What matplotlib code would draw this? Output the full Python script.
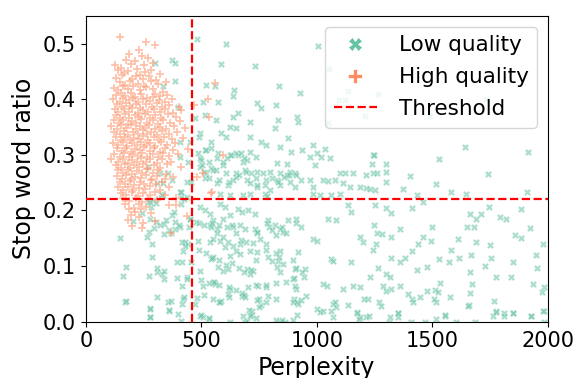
import matplotlib
matplotlib.use("Agg")
import matplotlib.pyplot as plt
from matplotlib.lines import Line2D

# ---------------- data ----------------
threshold_ppl = 460
threshold_ratio = 0.22

low_points = [
    (482,.509),(605,.50),(587,.463),(733,.46),(1006,.495),(1052,.454),(519,.426),(558,.423),(642,.416),(638,.405),
    (835,.423),(926,.412),(508,.396),(573,.396),(739,.393),(758,.384),(825,.39),(1136,.414),(1097,.398),(1124,.398),
    (1208,.37),(515,.372),(563,.363),(638,.368),(659,.375),(710,.359),(832,.362),(915,.369),(919,.36),(623,.351),
    (652,.348),(818,.348),(494,.339),(587,.34),(609,.333),(710,.333),(876,.33),(544,.324),(760,.324),(782,.318),
    (840,.315),(984,.318),(1035,.31),(934,.309),(515,.309),(573,.304),(623,.30),(659,.30),(710,.306),(736,.297),
    (890,.306),(970,.297),(999,.303),(1020,.297),(1244,.30),(494,.294),(681,.288),(696,.291),(826,.285),(869,.283),
    (1237,.283),(544,.277),(594,.282),(1049,.358),(1056,.294),
    (991,.282),(739,.27),(768,.267),(797,.27),(840,.267),(869,.264),(883,.27),(905,.267),(1100,.268),(1121,.267),
    (1157,.267),(1215,.264),(1244,.267),(522,.267),(551,.273),(652,.267),(688,.273),(457,.251),(515,.258),(566,.249),
    (616,.245),(638,.255),(696,.255),(710,.249),(739,.242),(775,.245),(797,.236),(826,.255),(840,.245),(883,.251),
    (905,.242),(970,.255),(984,.242),(1027,.255),(1049,.253),(1078,.255),(1114,.249),(1143,.242),(1186,.242),(1215,.24),
    (580,.23),(623,.227),(681,.227),(710,.23),(775,.23),(785,.226),(984,.23),(1013,.227),(1063,.227),(1100,.23),
    (1136,.209),(1150,.197),(494,.206),(515,.2),(537,.194),(551,.182),(594,.185),(623,.191),(580,.212),(602,.206),
    (659,.203),(674,.197),(703,.2),(732,.194),(789,.182),(793,.17),(818,.173),(876,.182),(912,.185),(1049,.184),
    (1085,.182),(450,.185),(479,.179),(537,.173),(566,.167),(638,.17),(667,.173),(688,.167),(732,.167),(739,.159),
    (753,.149),(840,.167),(854,.161),(984,.149),(999,.146),(1186,.152),(1201,.143),(443,.14),(486,.146),(537,.143),
    (551,.149),(580,.146),(602,.134),(638,.137),(667,.14),(594,.152),(616,.143),(782,.14),(652,.128),(667,.122),
    (710,.128),(739,.125),(840,.128),(919,.125),(407,.17),(429,.143),(421,.128),(544,.113),(551,.116),(623,.119),
    (789,.116),(804,.11),(832,.11),(854,.104),(1063,.113),(1071,.11),(1150,.107),(457,.107),(494,.092),(573,.098),
    (594,.092),(616,.095),(696,.095),(724,.092),(710,.086),(826,.098),(840,.089),(905,.095),(948,.095),(436,.08),
    (508,.065),(551,.071),(558,.068),(623,.059),(616,.05),(674,.047),(688,.044),(746,.065),(782,.062),(789,.047),
    (898,.077),(912,.059),(955,.047),(905,.065),(1042,.065),(1027,.068),(1114,.059),(1157,.065),(1186,.063),(1229,.08),
    (1071,.032),(1085,.026),(919,.032),(999,.023),(1013,.017),(1172,.017),(1186,.008),(1215,.008),(472,.032),(508,.008),
    (681,.011),(696,.001),(1222,.041),(551,.041),(587,.038),
    (170,.036),(277,.025),(277,.008),(361,.02),(398,.013),(420,.04),(496,.01),(533,.005),(579,.035),(624,.0),
    (687,.0),(711,.01),(719,.02),(759,.03),(751,.04),(823,.04),(839,.0),(863,.0),(902,.04),(915,.035),
    (1029,.02),(1061,.02),(1069,.008),(1077,.035),(1133,.03),(1173,.015),(1181,.005),(1204,.04),(1228,.01),(1268,.035),
    (1313,.0),(1353,.015),(1350,.008),(1411,.04),(1408,.0),(1467,.0),(1515,.035),(1515,.005),(1555,.01),(1603,.0),
    (1659,.03),(1683,.0),(1762,.01),(1778,.02),(1810,.015),(1850,.015),(1928,.01),(1984,.02),(1984,.0),
    (1299,.283),(1261,.267),(1299,.27),(1405,.262),(1742,.265),(1301,.251),(1518,.247),(1229,.238),(1251,.236),(1374,.238),
    (1432,.227),(1583,.233),(1648,.23),(1908,.233),(1251,.209),(1299,.204),(1323,.196),(1414,.205),(1460,.215),(1665,.194),
    (1691,.185),(1713,.194),(1745,.206),(1795,.188),(1818,.184),(1882,.203),(1247,.174),(1261,.159),(1284,.157),(1359,.166),
    (1499,.17),(1651,.171),(1680,.17),(1922,.169),(1320,.153),(1458,.152),(1494,.146),(1436,.14),(1414,.128),(1612,.149),
    (1691,.144),(1752,.138),(1857,.155),(1886,.151),(1980,.139),(1255,.14),(1244,.129),(1580,.129),(1667,.12),(1947,.12),
    (1323,.115),(1381,.115),(1359,.108),(1529,.113),(1571,.107),(1616,.115),(1753,.114),(1727,.101),(1850,.107),(1265,.096),
    (1299,.085),(1319,.081),(1434,.093),(1475,.098),(1662,.089),(1954,.097),(1775,.081),(1839,.08),(1287,.065),(1323,.059),
    (1299,.055),(1359,.065),(1532,.069),(1395,.05),(1417,.036),(1446,.044),(1475,.055),(1511,.057),(1508,.041),(1525,.053),
    (1576,.044),(1655,.029),(1662,.051),(1670,.068),(1766,.038),(1936,.067),(1977,.053),(1984,.062),(1276,.029),(1352,.015),
    (1316,.008),(1778,.018),(1810,.011),(1850,.015),(1929,.01),(1980,.019),(1554,.012),
    (1265,.41),(1734,.40),(1489,.37),(1247,.30),(1528,.292),(1641,.315),(1915,.305),
    (299,.465),(371,.471),(385,.465),(385,.432),(332,.423),(400,.387),(472,.366),(407,.324),(450,.324),(407,.297),
    (443,.288),(486,.303),(494,.278),(320,.267),(356,.267),(371,.255),(335,.249),(306,.249),(270,.279),(436,.251),
    (407,.233),(414,.224),(327,.23),(291,.218),(270,.215),(284,.206),
    (330,.227),(410,.233),(438,.224),(280,.215),(302,.213),(410,.212),(424,.221),(244,.195),(205,.181),(280,.185),
    (302,.179),(323,.173),(338,.176),(345,.182),(374,.191),(381,.197),(388,.179),(403,.173),(388,.167),(359,.164),
    (367,.159),(338,.158),(294,.169),(273,.161),(265,.153),(287,.14),(147,.151),(446,.17),(453,.185),(417,.143),
    (431,.137),(287,.117),(172,.099),(160,.083),(273,.083),(309,.089),(306,.097),(330,.086),(338,.077),(340,.092),
    (395,.107),(417,.107),(395,.079),(438,.077),(417,.065),(309,.045),(355,.035),(369,.038),(424,.044),(417,.031),
    (175,.038),(277,.023),(280,.008),(359,.021),(410,.002),
    (490,.333),(519,.309),(541,.312),(498,.291),(505,.282),(534,.288),(570,.294),(592,.288),(613,.294),(628,.30),
    (649,.303),(671,.303),(685,.294),(512,.27),(534,.258),(563,.273),(577,.255),(606,.267),(620,.251),(649,.26),
    (664,.264),(693,.27),(714,.267),(736,.258),(743,.245),(779,.255),(808,.258),(830,.251),(858,.26),(880,.264),
    (909,.264),(931,.255),
    (491,.177),(512,.174),(541,.171),(548,.177),(570,.159),(577,.174),(613,.171),(635,.174),(649,.159),(671,.147),
    (693,.144),(722,.141),(743,.162),(786,.177),(808,.165),(823,.156),(851,.171),(866,.159),(909,.177),(931,.171),
    (491,.129),(519,.123),(548,.114),(577,.111),(606,.102),(635,.105),(664,.096),(685,.09),(714,.093),(736,.111),
    (779,.129),(823,.123),(837,.117),(895,.111),(909,.096),(938,.09),
    (498,.075),(534,.069),(556,.072),(577,.066),(620,.063),(649,.057),(678,.051),(700,.063),(736,.066),(779,.066),
    (823,.069),(866,.072),(902,.078),(945,.081),
    (483,.042),(512,.048),(577,.036),(620,.045),(685,.048),(743,.039),(779,.036),(895,.036),(931,.039),
    (498,.012),(534,.006),(707,.021),(714,.012),(736,.006),(750,.027),(823,.003),(851,.003),(895,.003),(916,.012),
]

high_points = [
    (150,.512),(262,.503),(301,.498),(232,.489),(186,.482),(243,.478),(176,.471),(212,.468),(268,.474),(292,.465),
    (127,.462),(152,.457),(197,.463),(221,.455),(251,.461),(141,.452),(166,.447),(183,.451),(233,.444),(258,.449),
    (284,.453),(322,.446),(131,.438),(157,.443),(202,.436),(216,.441),(246,.437),(272,.442),(303,.435),(148,.431),
    (171,.426),(192,.433),(226,.428),(254,.424),(281,.432),(311,.427),(346,.431),(124,.421),(139,.417),(162,.423),
    (181,.418),(206,.424),(236,.416),(261,.422),(289,.418),(332,.413),(129,.408),(151,.412),(168,.405),(196,.411),
    (213,.404),(241,.409),(266,.403),(298,.41),(321,.405),(352,.408),(119,.401),(146,.396),(161,.403),(187,.398),
    (204,.402),(227,.395),(249,.401),(276,.397),(291,.404),(316,.399),(341,.395),(374,.4),(134,.391),(156,.386),
    (176,.393),(193,.388),(217,.392),(236,.385),(259,.391),(286,.387),(306,.393),(331,.386),(361,.39),(402,.387),
    (126,.382),(141,.377),(164,.383),(186,.378),(199,.384),(224,.376),(246,.381),(271,.378),(294,.383),(319,.377),
    (344,.382),(379,.376),(414,.381),(131,.372),(149,.367),(171,.373),(189,.366),(211,.371),(229,.368),(256,.374),
    (279,.366),(301,.372),(326,.367),(356,.373),(391,.368),(121,.362),(144,.357),(159,.363),(181,.356),(201,.361),
    (219,.358),(241,.364),(264,.357),(289,.362),(311,.356),(336,.363),(366,.358),(408,.361),(111,.352),(136,.347),
    (154,.353),(176,.348),(194,.354),(216,.346),(234,.352),(256,.349),(274,.353),(299,.347),(321,.351),(349,.346),
    (381,.352),(428,.348),(124,.342),(146,.337),(166,.343),(184,.336),(206,.341),(224,.338),(246,.344),(266,.337),
    (284,.342),(309,.336),(331,.343),(361,.338),(396,.341),(129,.332),(151,.327),(169,.333),(191,.326),(209,.331),
    (231,.328),(249,.334),(271,.327),(294,.332),(316,.326),(339,.333),(371,.328),(421,.331),(119,.322),(141,.317),
    (161,.323),(179,.316),(201,.321),(221,.318),(239,.324),(261,.317),(279,.322),(301,.316),(324,.323),(351,.318),
    (386,.321),(134,.312),(156,.307),(174,.313),(196,.306),(214,.311),(236,.308),(254,.314),(276,.307),(294,.312),
    (321,.306),(344,.313),(376,.308),(441,.311),(124,.302),(146,.297),(164,.303),(186,.296),(204,.301),(226,.298),
    (244,.304),(266,.297),(289,.302),(311,.296),(334,.303),(361,.298),(401,.301),(111,.292),(139,.287),(159,.293),
    (181,.286),(199,.291),(221,.288),(239,.294),(261,.287),(279,.292),(306,.286),(329,.293),(369,.288),(129,.282),
    (151,.277),(169,.283),(191,.276),(209,.281),(231,.278),(249,.284),(271,.277),(296,.282),(319,.276),(351,.283),
    (411,.278),(141,.272),(159,.267),(181,.273),(199,.266),(221,.271),(244,.268),(266,.274),(289,.267),(314,.272),
    (346,.266),(134,.262),(156,.257),(174,.263),(196,.256),(214,.261),(241,.258),(259,.264),(286,.257),(309,.262),
    (341,.256),(379,.261),(146,.252),(169,.247),(191,.253),(209,.246),(236,.251),(254,.248),(281,.254),(304,.247),
    (331,.252),(139,.242),(161,.237),(184,.243),(206,.236),(229,.241),(256,.238),(279,.244),(321,.237),(359,.242),
    (151,.232),(174,.227),(199,.233),(226,.226),(249,.231),(276,.228),(299,.234),(341,.227),(161,.222),(189,.217),
    (216,.223),(244,.216),(271,.221),(309,.218),(389,.222),(171,.212),(208,.204),(231,.211),(259,.207),(360,.21),
    (390,.21),(186,.202),(212,.197),(241,.203),(281,.196),(196,.192),(229,.188),(440,.19),(181,.182),(247,.177),
    (299,.181),(202,.172),(244,.168),(370,.16),
    (558,.43),(528,.40),(533,.368),(593,.30),(545,.233),(480,.26),(506,.267),(541,.231),(470,.39),
]

low_ppl = [p[0] for p in low_points]
low_ratio = [p[1] for p in low_points]
high_ppl = [p[0] for p in high_points]
high_ratio = [p[1] for p in high_points]

labels = ["Low quality", "High quality", "Threshold"]
colors = ["#66c2a5", "#fc8d62"]

# ---------------- plot ----------------
fig = plt.figure(figsize=(5.76, 3.78), dpi=100)
ax = fig.add_axes([0.149, 0.149, 0.802, 0.809])

ax.scatter(low_ppl, low_ratio, marker="X", s=26, color=colors[0], alpha=0.55,
           edgecolor="white", linewidth=0.3, zorder=2)
ax.scatter(high_ppl, high_ratio, marker="P", s=30, color=colors[1], alpha=0.55,
           edgecolor="white", linewidth=0.3, zorder=2)

ax.axvline(threshold_ppl, color="red", linestyle="--", linewidth=1.6, zorder=3)
ax.axhline(threshold_ratio, color="red", linestyle="--", linewidth=1.6, zorder=3)

ax.set_xlim(0, 2000)
ax.set_ylim(0, 0.55)
ax.set_xticks([0, 500, 1000, 1500, 2000])
ax.set_yticks([0.0, 0.1, 0.2, 0.3, 0.4, 0.5])
ax.tick_params(labelsize=15)
ax.set_xlabel("Perplexity", fontsize=17, labelpad=3)
ax.set_ylabel("Stop word ratio", fontsize=17, labelpad=5)

handles = [
    Line2D([], [], marker="X", linestyle="none", markersize=10, color=colors[0],
           markeredgecolor="white", markeredgewidth=0.5),
    Line2D([], [], marker="P", linestyle="none", markersize=10, color=colors[1],
           markeredgecolor="white", markeredgewidth=0.5),
    Line2D([], [], color="red", linestyle="--", linewidth=1.6),
]
ax.legend(handles, labels, loc="upper right", fontsize=15.5, framealpha=0.8,
          labelspacing=0.55, handletextpad=1.0)

fig.savefig("out.png", dpi=100)
